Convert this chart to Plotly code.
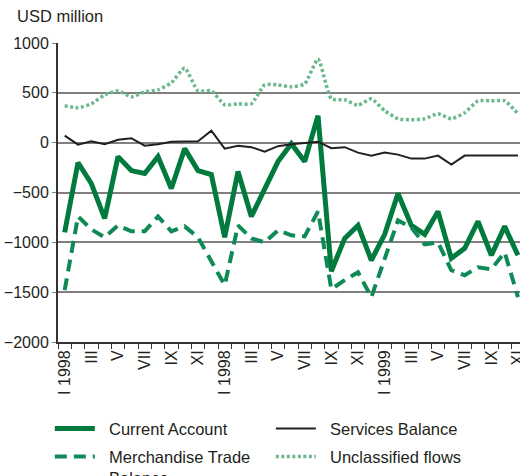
import plotly.graph_objects as go

# ---- data (USD million), monthly, Jan 1998 .. Nov 1999 (as shown) ----
tick_labels = ["I 1998", "III", "V", "VII", "IX", "XI",
               "I 1998", "III", "V", "VII", "IX", "XI",
               "I 1999", "III", "V", "VII", "IX", "XI"]

current_account = [-900, -200, -410, -760, -140, -280, -310, -140, -460, -60,
                   -280, -320, -950, -290, -740, -470, -190, -10, -190, 270,
                   -1290, -960, -830, -1180, -920, -510, -830, -920, -690, -1160,
                   -1060, -790, -1130, -840, -1130]

merchandise_trade = [-1480, -740, -870, -950, -830, -890, -890, -740, -890, -840,
                     -950, -1190, -1430, -830, -960, -1000, -880, -930, -940, -690,
                     -1470, -1380, -1300, -1550, -1165, -780, -850, -1020, -1000, -1280,
                     -1330, -1250, -1270, -1100, -1550]

services_balance = [70, -20, 15, -15, 30, 45, -30, -15, 10, 15,
                    15, 120, -60, -30, -45, -90, -35, -15, 0, 10,
                    -55, -45, -100, -130, -100, -120, -160, -160, -130, -220,
                    -130, -130, -130, -130, -130]

unclassified = [370, 350, 390, 480, 520, 460, 510, 530, 600, 750,
                520, 520, 380, 390, 390, 580, 580, 560, 590, 840,
                440, 430, 375, 440, 320, 240, 230, 240, 290, 240,
                300, 420, 420, 420, 290]

x = list(range(len(current_account)))
tick_vals = list(range(0, 2 * len(tick_labels), 2))

FONT = "Liberation Sans, Arial, Helvetica, sans-serif"
TXT = "#231f20"
FS = 16.5
SP = "&nbsp;&nbsp;"

fig = go.Figure()
fig.add_trace(go.Scatter(x=x, y=current_account, mode="lines", name=SP + "Current Account",
                         line=dict(color="#007a3d", width=5), legend="legend"))
fig.add_trace(go.Scatter(x=x, y=services_balance, mode="lines", name=SP + "Services Balance",
                         line=dict(color=TXT, width=2), legend="legend"))
fig.add_trace(go.Scatter(x=x, y=merchandise_trade, mode="lines",
                         name=SP + "Merchandise Trade<br>" + SP + "Balance",
                         line=dict(color="#0f8a56", width=4, dash="12px,7px"), legend="legend2"))
fig.add_trace(go.Scatter(x=x, y=unclassified, mode="lines", name=SP + "Unclassified flows",
                         line=dict(color="#6cb98f", width=3.5, dash="3px,2.5px",
                                   shape="spline", smoothing=0.5), legend="legend2"))

# darker grid lines at -1000 and -1500 as in the reference
for yv in (-1000, -1500):
    fig.add_shape(type="line", xref="paper", yref="y", x0=0, x1=1, y0=yv, y1=yv,
                  line=dict(color="#111111", width=1.5), layer="below")

leg_common = dict(orientation="h", xanchor="left", yanchor="top",
                  entrywidth=166, itemwidth=40, valign="top",
                  font=dict(family=FONT, size=FS, color=TXT),
                  bgcolor="rgba(0,0,0,0)", traceorder="normal")

fig.update_layout(
    width=520, height=476,
    margin=dict(l=58, r=0, t=43, b=134, autoexpand=False),
    paper_bgcolor="white", plot_bgcolor="white",
    font=dict(family=FONT, size=FS, color=TXT),
    showlegend=True,
    legend=dict(x=-0.0177, y=-0.232, **leg_common),
    legend2=dict(x=-0.0177, y=-0.3254, **leg_common),
    annotations=[dict(text="USD million", xref="paper", yref="paper",
                      x=-0.093, y=1.055, xanchor="left", yanchor="bottom",
                      showarrow=False, font=dict(family=FONT, size=FS, color=TXT))],
)

fig.update_xaxes(range=[-0.5, 34.15], tickmode="array", tickvals=tick_vals,
                 ticktext=tick_labels, tickangle=-90, ticks="", automargin=False,
                 ticklabeloverflow="allow",
                 showgrid=False, zeroline=False,
                 showline=True, linecolor="#333333", linewidth=2,
                 tickfont=dict(family=FONT, size=16, color=TXT),
                 minor=dict(tickmode="array",
                            tickvals=[i - 0.5 for i in range(len(x) + 1)],
                            ticks="outside", ticklen=5, tickwidth=1,
                            tickcolor="#333333", showgrid=False))

fig.update_yaxes(range=[-2000, 1000], dtick=500, tick0=0, automargin=False,
                 showgrid=True, gridcolor="#808080", gridwidth=1.5,
                 zeroline=False, showline=True, linecolor="#333333", linewidth=2,
                 ticks="outside", ticklen=4, tickcolor="#808080",
                 tickfont=dict(family=FONT, size=16, color=TXT))

fig.write_html("out.html",
               config={"displayModeBar": False},
               post_script="document.body.style.margin='0';document.body.style.overflow='hidden';")
